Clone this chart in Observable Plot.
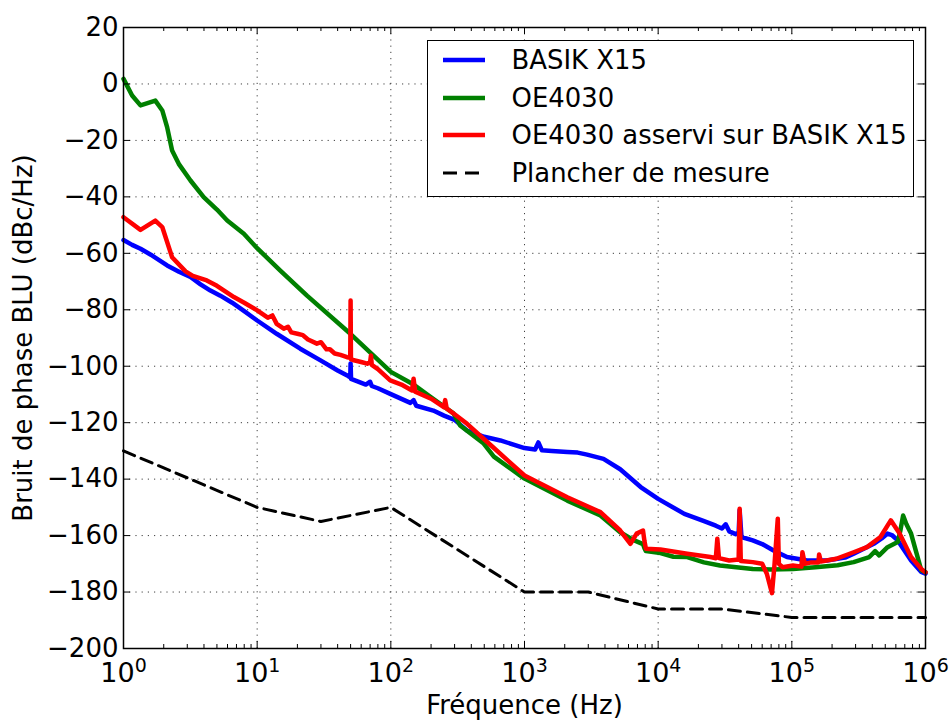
<!DOCTYPE html>
<html><head><meta charset="utf-8">
<script src="https://cdn.jsdelivr.net/npm/d3@7"></script>
<script src="https://cdn.jsdelivr.net/npm/@observablehq/plot@0.6"></script>
<style>
body{margin:0;background:#fff;}
#wrap{position:relative;width:949px;height:722px;font-family:"DejaVu Sans",sans-serif;}
#legend{position:absolute;left:427px;top:40px;width:487px;height:157px;border:1.5px solid #000;background:#fff;box-sizing:border-box;}
.row{position:absolute;left:0;height:30px;display:flex;align-items:center;font-size:25.9px;color:#000;white-space:nowrap;}
.row svg{margin-left:14.5px;margin-right:27px;}
</style></head><body><div id="wrap"></div>
<script>
// ---- data (frequency in Hz, level in dBc/Hz) ----
const seriesNames = ["BASIK X15", "OE4030", "OE4030 asservi sur BASIK X15", "Plancher de mesure"];
const seriesColors = ["#0000ff", "#008000", "#ff0000", "#000000"];
const xTickValues = [1, 10, 100, 1000, 10000, 100000, 1000000];
const yTickValues = [-200, -180, -160, -140, -120, -100, -80, -60, -40, -20, 0, 20];

const basik = [[1,-55.3],[1.16,-57],[1.34,-58.4],[1.6,-60.5],[2.12,-64.3],[2.6,-66.5],[3.17,-68.4],[3.77,-71],[4.47,-73.2],[5.3,-75],[6.5,-77.5],[8,-80.5],[10,-83.8],[14,-88.5],[21,-93.8],[30,-98],[40,-101.5],[48,-103.5],[49.7,-104],[50,-99],[50.4,-104.5],[65,-106.5],[70,-105.5],[72,-107],[80,-107.8],[99,-109.8],[140,-113],[148,-112],[155,-114],[208,-115.7],[250,-117.5],[300,-119],[372,-122.8],[500,-125],[660,-126.3],[1000,-129],[1200,-129.5],[1270,-127],[1350,-129.8],[1600,-130],[2090,-130.4],[2500,-130.6],[2940,-131.3],[3900,-132.8],[5200,-136.5],[7400,-142.8],[10000,-147],[15700,-152.3],[21800,-154.8],[27000,-156.5],[30000,-157.5],[32000,-156],[34000,-158.5],[38000,-159.5],[40000,-159],[40700,-151],[42000,-160.5],[51000,-161.7],[60000,-163],[73000,-165.3],[92000,-167.6],[130000,-168.8],[183000,-168.8],[250000,-167.8],[290000,-166.4],[410000,-162.9],[470000,-161],[520000,-159.3],[560000,-159.8],[620000,-161.7],[780000,-168.8],[930000,-172.9],[1000000,-173.5]];

const oe4030 = [[1,1.8],[1.16,-4.1],[1.34,-7.6],[1.73,-5.9],[1.95,-9.4],[2.12,-15.3],[2.31,-23.6],[2.59,-28.3],[3.17,-34.2],[3.98,-40.1],[5,-44.5],[5.97,-48.4],[7.95,-53.1],[10,-58.2],[14.9,-66.1],[23.6,-75],[49.8,-88.5],[100,-102],[148,-106.5],[200,-111],[294,-116.7],[330,-121],[495,-127.4],[590,-132],[1000,-139.8],[2090,-147.6],[3700,-152.9],[5200,-158.8],[6500,-161.5],[7700,-163],[7900,-164.5],[8100,-165.5],[10400,-166.2],[13000,-167.5],[16500,-167.6],[22000,-169.5],[29000,-170.6],[40000,-171.3],[51000,-171.8],[70000,-172],[102000,-171.8],[150000,-171.2],[220000,-170.5],[290000,-169.4],[380000,-167.6],[420000,-165.5],[450000,-167],[520000,-164.1],[620000,-162.3],[650000,-158],[680000,-152.9],[720000,-156],[780000,-159.3],[930000,-172.3],[1000000,-173]];

const asservi = [[1,-47.2],[1.34,-51.7],[1.73,-48.4],[1.95,-50.7],[2.31,-61.4],[2.91,-66.4],[3.3,-68],[4.2,-69.6],[5,-71.5],[6.7,-75.5],[8,-77.5],[10,-80.2],[12,-82.8],[13,-82],[14,-85],[15.8,-86.7],[17,-86],[18,-88],[20,-88.5],[22,-89],[24,-90.5],[28,-92],[30,-91.5],[33,-94],[35,-94],[38,-95.5],[42,-96],[47,-96.8],[49.7,-97],[50,-76.7],[50.3,-97.5],[52,-97.8],[60,-98.5],[66.5,-99.1],[70,-98.5],[71,-96.2],[72,-99.5],[80,-101],[99,-105],[120,-106.5],[144,-108.6],[148,-104.4],[152,-109],[200,-111.5],[249,-114.5],[255,-112],[262,-115],[300,-117],[372,-120.4],[560,-128],[1000,-138.7],[2090,-146.4],[3700,-151.7],[5200,-158.2],[6200,-162.9],[6900,-159.3],[7700,-158.2],[7900,-162],[8100,-164.7],[10400,-164.9],[16500,-166.4],[24600,-167.6],[27000,-168],[27700,-161.1],[28500,-168],[34000,-168.8],[40000,-168.5],[40700,-150.5],[41500,-169],[51000,-169.4],[60000,-170],[65000,-173.5],[71000,-180.4],[74000,-171],[78500,-154],[80000,-170],[85000,-171.2],[102000,-170.6],[118000,-171],[120000,-165.9],[125000,-170],[140000,-169.5],[158000,-169.5],[160000,-166.7],[165000,-169.2],[215000,-168.2],[290000,-165.9],[365000,-164.1],[460000,-160.5],[550000,-154.6],[640000,-159.3],[780000,-167.6],[930000,-171.8],[1000000,-173]];

const plancher = [[1,-130],[10,-150],[30,-155],[100,-150],[1000,-180],[3000,-180],[10000,-186],[30000,-186],[100000,-189],[1000000,-189]];

const toRows = (arr) => arr.map(([f, v]) => ({f, v}));

// minor tick positions on the log axis
const xMinor = [];
for (const d of xTickValues.slice(0, -1)) for (let k = 2; k <= 9; k++) xMinor.push(d * k);

const W = 949, H = 722, mL = 123, mR = 24, mT = 27, mB = 74;
const pw = W - mL - mR, ph = H - mT - mB;

const chart = Plot.plot({
  width: W, height: H,
  marginLeft: mL, marginRight: mR, marginTop: mT, marginBottom: mB,
  style: {fontFamily: "'DejaVu Sans', sans-serif", fontSize: "26px", background: "#fff", color: "#000"},
  x: {type: "log", domain: [1, 1e6]},
  y: {domain: [-200, 20]},
  marks: [
    Plot.gridX(xTickValues, {stroke: "#000", strokeOpacity: 0.75, strokeDasharray: "1.2,5", strokeWidth: 1}),
    Plot.gridY(yTickValues, {stroke: "#000", strokeOpacity: 0.75, strokeDasharray: "1.2,5", strokeWidth: 1}),
    Plot.line(toRows(basik), {x: "f", y: "v", stroke: seriesColors[0], strokeWidth: 4.5, strokeLinejoin: "round"}),
    Plot.line(toRows(oe4030), {x: "f", y: "v", stroke: seriesColors[1], strokeWidth: 4.5, strokeLinejoin: "round"}),
    Plot.line(toRows(asservi), {x: "f", y: "v", stroke: seriesColors[2], strokeWidth: 4.5, strokeLinejoin: "round"}),
    Plot.line(toRows(plancher), {x: "f", y: "v", stroke: seriesColors[3], strokeWidth: 3, strokeDasharray: "12,7"}),
    Plot.frame({stroke: "#000", strokeWidth: 1.5}),
    // inward ticks, all four sides
    Plot.tickX(xTickValues, {x: d => d, insetTop: ph - 7, stroke: "#000", strokeWidth: 1}),
    Plot.tickX(xTickValues, {x: d => d, insetBottom: ph - 7, stroke: "#000", strokeWidth: 1}),
    Plot.tickX(xMinor, {x: d => d, insetTop: ph - 4, stroke: "#000", strokeWidth: 1}),
    Plot.tickX(xMinor, {x: d => d, insetBottom: ph - 4, stroke: "#000", strokeWidth: 1}),
    Plot.tickY(yTickValues, {y: d => d, insetRight: pw - 7, stroke: "#000", strokeWidth: 1}),
    Plot.tickY(yTickValues, {y: d => d, insetLeft: pw - 7, stroke: "#000", strokeWidth: 1}),
    Plot.axisX({ticks: xTickValues, tickSize: 0, tickPadding: 14, label: null,
      tickFormat: d => String(Math.round(Math.log10(d))), fontSize: 27}),
    Plot.axisY({ticks: yTickValues, tickSize: 0, tickPadding: 5, label: null, fontSize: 26}),
    Plot.text(["Fréquence (Hz)"], {text: d => d, frameAnchor: "bottom", textAnchor: "middle", dy: 65, fontSize: 26}),
    Plot.text(["Bruit de phase BLU (dBc/Hz)"], {text: d => d, frameAnchor: "left", textAnchor: "middle", dx: -100, rotate: -90, fontSize: 26})
  ]
});

// render x tick labels as 10 with a superscript exponent
d3.select(chart).selectAll('g[aria-label="x-axis tick label"] text').each(function() {
  const t = d3.select(this);
  const e = t.text();
  t.text("");
  t.append("tspan").text("10");
  t.append("tspan").attr("dy", "-10").attr("font-size", "19px").text(e);
});

const wrap = document.getElementById("wrap");
wrap.appendChild(chart);

// legend
const legend = document.createElement("div");
legend.id = "legend";
seriesNames.forEach((name, i) => {
  const row = document.createElement("div");
  row.className = "row";
  row.style.top = (4 + i * 37.6) + "px";
  const dash = i === 3 ? "14,8" : null;
  const sw = i === 3 ? 3 : 4.5;
  row.innerHTML = `<svg width="42" height="30"><line x1="0" y1="15" x2="42" y2="15" stroke="${seriesColors[i]}" stroke-width="${sw}" ${dash ? `stroke-dasharray="${dash}"` : ""}/></svg><span>${name}</span>`;
  legend.appendChild(row);
});
wrap.appendChild(legend);
</script>
</body></html>
